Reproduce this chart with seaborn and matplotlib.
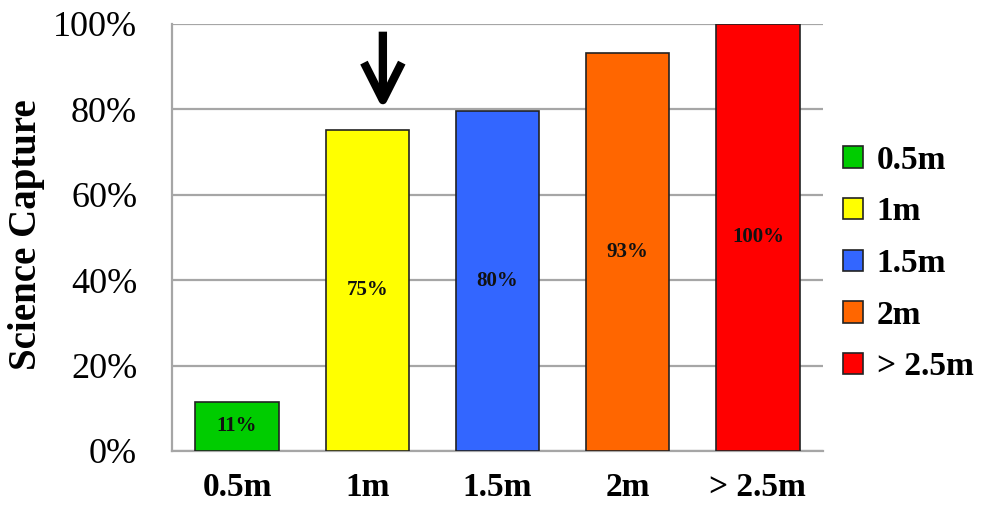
import matplotlib
matplotlib.use("Agg")
import matplotlib.pyplot as plt
import seaborn as sns
import pandas as pd

categories = ["0.5m", "1m", "1.5m", "2m", "> 2.5m"]
values = [11.5, 75.2, 79.6, 93.2, 100.0]
labels = ["11%", "75%", "80%", "93%", "100%"]
colors = ["#00CC00", "#FFFF00", "#3366FF", "#FF6600", "#FF0000"]
yticks = [0, 20, 40, 60, 80, 100]

df = pd.DataFrame({"cat": categories, "val": values})

sns.set_style("white")
plt.rcParams["font.family"] = ["Liberation Serif", "DejaVu Serif"]
for k in ["text.color", "xtick.color", "ytick.color", "axes.labelcolor"]:
    plt.rcParams[k] = "black"

fig = plt.figure(figsize=(9.88, 5.05), dpi=100)
ax = fig.add_axes([0.174, 0.107, 0.659, 0.8455])

sns.barplot(data=df, x="cat", y="val", hue="cat", palette=colors,
            order=categories, hue_order=categories, dodge=False,
            width=0.64, edgecolor="#222222", linewidth=1.2, saturation=1,
            legend=True, ax=ax, zorder=3)

for cont, lab in zip(ax.containers, labels):
    ax.bar_label(cont, labels=[lab], label_type="center", fontsize=15,
                 fontweight="bold", color="#111111")

ax.set_ylim(0, 100)
ax.set_xlim(-0.5, 4.5)
ax.set_yticks(yticks)
ax.set_yticklabels([f"{t}%" for t in yticks], fontsize=26)
ax.tick_params(axis="y", length=0, pad=25)
ax.tick_params(axis="x", length=0, pad=15, labelsize=24)
for t in ax.get_xticklabels():
    t.set_fontweight("bold")
ax.set_xlabel("")
ax.set_ylabel("Science Capture", fontsize=28, fontweight="bold")
ax.yaxis.set_label_coords(-0.195, 0.506)

ax.yaxis.grid(True, color="#A6A6A6", linewidth=1.6, zorder=0)
ax.set_axisbelow(True)
for s in ["right", "top"]:
    ax.spines[s].set_visible(False)
for s in ["left", "bottom"]:
    ax.spines[s].set_color("#A6A6A6")
    ax.spines[s].set_linewidth(1.6)

ax.annotate("", xy=(1.12, 80.0), xytext=(1.12, 98.2),
            arrowprops=dict(arrowstyle="->,head_length=1.35,head_width=0.68",
                            mutation_scale=20, shrinkA=0, shrinkB=0,
                            color="black", lw=6, capstyle="butt"))

handles, leg_labels = ax.get_legend_handles_labels()
leg = ax.legend(handles, leg_labels, loc="center left", bbox_to_anchor=(1.031, 0.439),
                frameon=False, handlelength=0.6, handleheight=0.6, borderpad=0,
                borderaxespad=0, handletextpad=0.4, labelspacing=0.62,
                prop={"weight": "bold", "size": 24})
fig.savefig("out.png", dpi=100)
